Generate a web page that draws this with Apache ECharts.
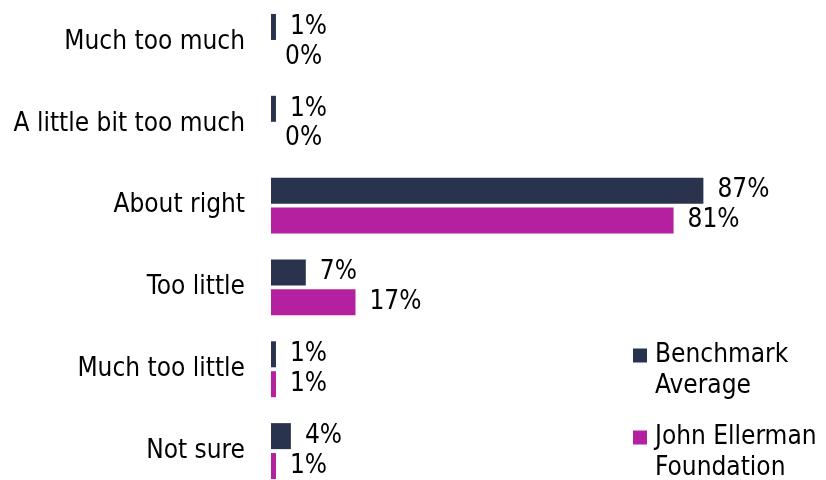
<!DOCTYPE html>
<html>
<head>
<meta charset="utf-8">
<script src="https://cdn.jsdelivr.net/npm/echarts@6/dist/echarts.min.js"></script>
<style>
  html, body { margin: 0; padding: 0; background: #fff; }
  #chart { width: 826px; height: 480px; }
</style>
</head>
<body>
<div id="chart"></div>
<script>
// categories top to bottom
var categories = ['Much too much', 'A little bit too much', 'About right', 'Too little', 'Much too little', 'Not sure'];
var seriesNames = ['Benchmark\nAverage', 'John Ellerman\nFoundation'];
var benchmark = [1, 1, 87, 7, 1, 4];
var ellerman = [0, 0, 81, 17, 1, 1];

var fontName = '"DejaVu Sans Condensed"';
var fontSize = 26;
var colors = ['#29334d', '#b4209f'];

// legend icon: square at top left, invisible point further out so the square
// lines up with the first text line and the text sits a little to the right
var legendIcon = 'path://M0,0L14,0L14,14L0,14Z M17,45L17,45.01';

var chart = echarts.init(document.getElementById('chart'));

var labelStyle = {
    show: true,
    position: 'right',
    distance: 14,
    formatter: '{c}%',
    color: '#000',
    fontFamily: fontName,
    fontSize: fontSize
};

var option = {
    animation: false,
    grid: {
        left: 271,
        top: 1,
        width: 497,
        height: 491,
        outerBoundsMode: 'none'
    },
    legend: {
        orient: 'vertical',
        left: 633,
        top: 340,
        height: 200,
        padding: 0,
        itemGap: 20,
        itemWidth: 17,
        itemHeight: 45,
        icon: legendIcon,
        textStyle: {
            fontFamily: fontName,
            fontSize: fontSize,
            color: '#000',
            lineHeight: 31
        },
        data: seriesNames
    },
    xAxis: {
        type: 'value',
        min: 0,
        max: 100,
        show: false
    },
    yAxis: {
        type: 'category',
        inverse: true,
        data: categories,
        axisLine: {show: false},
        axisTick: {show: false},
        axisLabel: {
            margin: 26,
            color: '#000',
            fontFamily: fontName,
            fontSize: fontSize
        }
    },
    series: [
        {
            name: seriesNames[0],
            type: 'bar',
            data: benchmark,
            barWidth: 26,
            barGap: '15%',
            itemStyle: {color: colors[0]},
            label: labelStyle
        },
        {
            name: seriesNames[1],
            type: 'bar',
            data: ellerman,
            barWidth: 26,
            barGap: '15%',
            itemStyle: {color: colors[1]},
            label: labelStyle
        }
    ]
};

chart.setOption(option);
</script>
</body>
</html>
